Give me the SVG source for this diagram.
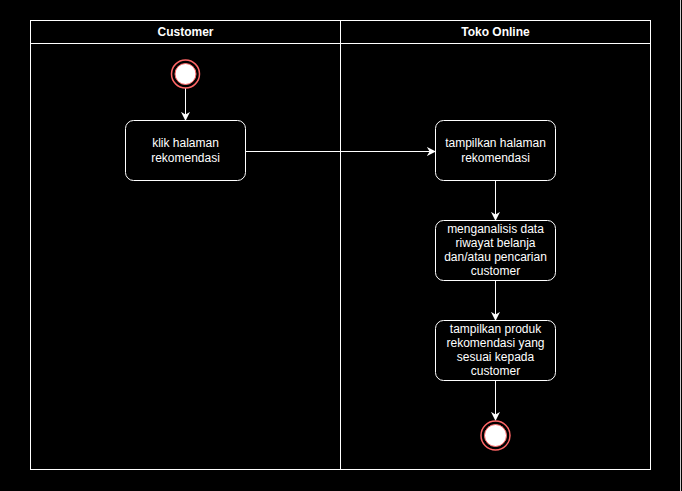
<svg xmlns="http://www.w3.org/2000/svg" width="682" height="491" viewBox="0 0 682 491">
<style>
.t{font-family:"Liberation Sans",Arial,sans-serif;font-size:12px;fill:#fff;text-anchor:middle}
.h{font-weight:bold}
.box{fill:#000;stroke:#fff;stroke-width:1}
.ln{fill:none;stroke:#fff;stroke-width:1}
</style>
<defs>
<marker id="a" viewBox="0 0 10 10" refX="9" refY="5" markerWidth="9" markerHeight="9" orient="auto" markerUnits="userSpaceOnUse">
<path d="M0,0 L10,5 L0,10 L3,5 Z" fill="#fff"/>
</marker>
</defs>
<rect width="682" height="491" fill="#000"/>
<line x1="680.5" y1="0" x2="680.5" y2="491" stroke="#ccc"/>
<g id="pool">
<rect x="30.5" y="20.5" width="620" height="449" class="ln"/>
<line x1="30.5" y1="43.5" x2="650.5" y2="43.5" class="ln"/>
<line x1="340.5" y1="20.5" x2="340.5" y2="469.5" class="ln"/>
<text x="185.5" y="36" class="t h">Customer</text>
<text x="495.5" y="36" class="t h">Toko Online</text>
</g>
<g id="connectors">
<line x1="185.5" y1="88" x2="185.5" y2="120" class="ln" marker-end="url(#a)"/>
<line x1="245" y1="151.5" x2="435" y2="151.5" class="ln" marker-end="url(#a)"/>
<line x1="495.5" y1="180.5" x2="495.5" y2="220" class="ln" marker-end="url(#a)"/>
<line x1="495.5" y1="280.5" x2="495.5" y2="320" class="ln" marker-end="url(#a)"/>
<line x1="495.5" y1="380.5" x2="495.5" y2="420" class="ln" marker-end="url(#a)"/>
</g>
<g id="start">
<circle cx="185.5" cy="74" r="14" fill="#000" stroke="#f66" stroke-width="1.5"/>
<circle cx="185.5" cy="74" r="10.5" fill="#fff" stroke="#f66" stroke-width="1"/>
</g>
<g id="n1">
<rect x="125.5" y="120.5" width="120" height="60" rx="8" class="box"/>
<text x="185.5" y="147" class="t">klik halaman</text>
<text x="185.5" y="162" class="t">rekomendasi</text>
</g>
<g id="n2">
<rect x="435.5" y="120.5" width="120" height="60" rx="8" class="box"/>
<text x="495.5" y="147" class="t">tampilkan halaman</text>
<text x="495.5" y="162" class="t">rekomendasi</text>
</g>
<g id="n3">
<rect x="435.5" y="220.5" width="120" height="60" rx="8" class="box"/>
<text x="495.5" y="233" class="t">menganalisis data</text>
<text x="495.5" y="247" class="t">riwayat belanja</text>
<text x="495.5" y="261" class="t">dan/atau pencarian</text>
<text x="495.5" y="275" class="t">customer</text>
</g>
<g id="n4">
<rect x="435.5" y="320.5" width="120" height="60" rx="8" class="box"/>
<text x="495.5" y="333" class="t">tampilkan produk</text>
<text x="495.5" y="347" class="t">rekomendasi yang</text>
<text x="495.5" y="361" class="t">sesuai kepada</text>
<text x="495.5" y="375" class="t">customer</text>
</g>
<g id="end">
<circle cx="495.5" cy="435.5" r="14.5" fill="#000" stroke="#f66" stroke-width="1.5"/>
<circle cx="495.5" cy="435.5" r="11" fill="#fff" stroke="#f66" stroke-width="1"/>
</g>
</svg>
